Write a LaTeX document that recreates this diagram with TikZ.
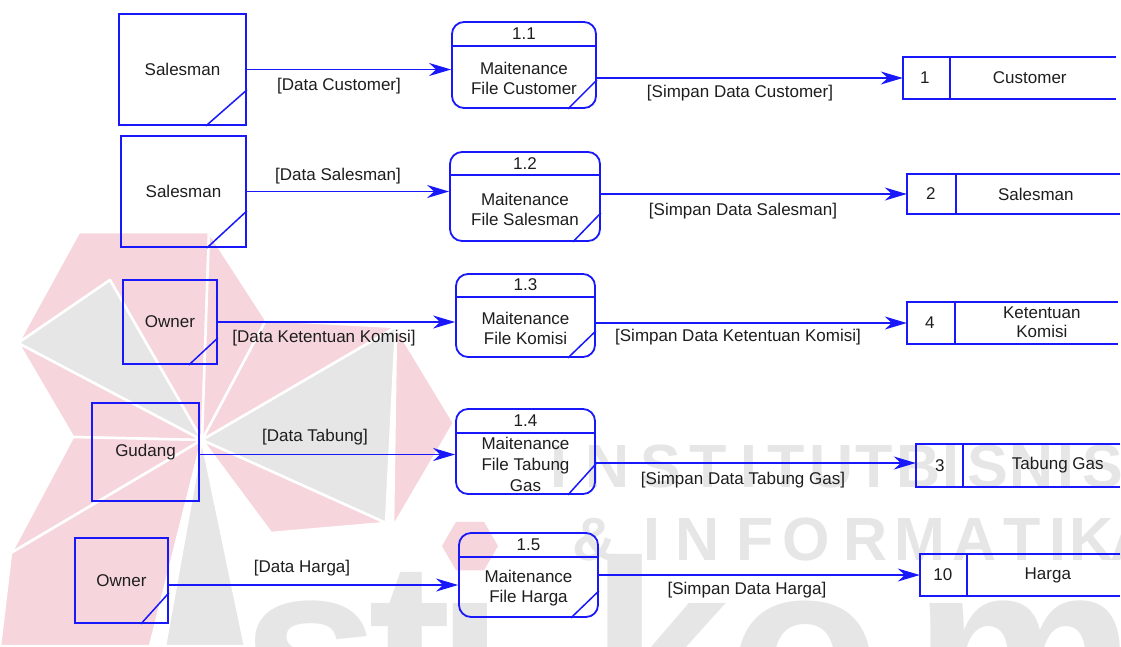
\documentclass[tikz,border=0pt]{standalone}
\usepackage{fontspec}
\setmainfont{Liberation Sans}
\newfontfamily\wmfont{Liberation Sans}
\usetikzlibrary{arrows.meta,calc,shapes.geometric}

\definecolor{flow}{RGB}{24,24,250}
\definecolor{ink}{RGB}{30,30,30}
\definecolor{wmpink}{RGB}{246,214,220}
\definecolor{wmgrey}{RGB}{230,230,230}

\begin{document}
\begin{tikzpicture}[x=1pt, y=1pt,
  flowline/.style={draw=flow, line width=1.8pt},
  entity/.style={flowline, rectangle, inner sep=0pt, font=\fontsize{17}{20}\selectfont, text=ink},
  proc/.style={flowline, rectangle, rounded corners=12pt, inner sep=0pt},
  store/.style={rectangle, inner sep=0pt},
  lbl/.style={font=\fontsize{17}{20}\selectfont, text=ink, inner sep=0pt, align=center},
  corner/.style={draw=flow, line width=1.5pt},
  arrowline/.style={flowline, -{Stealth[length=22pt,width=13pt,inset=7pt]}},
  blade/.style={draw=white, line width=2.5pt, line join=round},
  wmtext/.style={text=wmgrey, inner sep=0pt, anchor=base,
    font=\wmfont\bfseries\fontsize{61}{61}\selectfont},
  wmbig/.style={text=wmgrey, inner sep=0pt, anchor=base,
    font=\wmfont\bfseries\fontsize{250}{250}\selectfont}
]
\useasboundingbox (0,0) rectangle (1121,-646);
\fill[white] (0,0) rectangle (1121,-646);

% ---------- background logo ----------
\begin{scope}
\clip (0,0) rectangle (1121,-646);
\coordinate (C) at (202,-440);
\coordinate (A) at (79,-232);
\coordinate (B) at (209,-232);
\coordinate (D) at (18,-343);
\coordinate (E) at (266,-320);
\coordinate (F) at (396,-327);
\coordinate (G) at (454,-423);
\coordinate (H) at (393,-527);
\coordinate (I) at (271,-533);
\coordinate (J) at (73,-437);
\coordinate (K) at (11,-553);
\coordinate (N) at (386,-523);
\coordinate (P) at (110,-280);
\coordinate (R) at (154,-487);
\coordinate (Q1) at (0,-646);
\coordinate (Q2) at (150,-646);
\coordinate (Q3) at (165,-646);
\coordinate (Q4) at (245,-646);
\filldraw[blade, fill=wmpink] (A) -- (B) -- (C) -- (P) -- (D) -- cycle;
\filldraw[blade, fill=wmgrey] (D) -- (P) -- (C) -- cycle;
\filldraw[blade, fill=wmpink] (B) -- (E) -- (C) -- cycle;
\filldraw[blade, fill=wmpink] (E) -- (F) -- (C) -- cycle;
\filldraw[blade, fill=wmgrey] (F) -- (N) -- (C) -- cycle;
\filldraw[blade, fill=wmpink] (F) -- (G) -- (H) -- cycle;
\filldraw[blade, fill=wmpink] (C) -- (N) -- (I) -- cycle;
\filldraw[blade, fill=wmpink] (D) -- (C) -- (J) -- cycle;
\filldraw[blade, fill=wmpink] (J) -- (C) -- (K) -- cycle;
\filldraw[blade, fill=wmgrey] (K) -- (R) -- (C) -- cycle;
\filldraw[blade, fill=wmpink] (K) -- (C) -- (Q2) -- (Q1) -- cycle;
\filldraw[blade, fill=wmgrey] (C) -- (Q3) -- (Q4) -- cycle;

% lettering of the logo
\node[wmbig] (ws) at (311,-735) {s};
\node[wmbig] (wt) at (410,-735) {t};
\node[wmbig] (wi) at (470,-735) {ı};
\node[wmbig] (wk) at (660,-735) {k};
\node[wmbig] (wo) at (805,-735) {o};
\node[wmbig] (wm) at (1025,-735) {m};
\node[regular polygon, regular polygon sides=6, minimum size=56pt,
      fill=wmpink, inner sep=0pt] (wdot) at (470,-546) {};
\foreach \ch/\cx [count=\k] in {I/559,N/608,S/661,T/708,I/749,T/786,U/832,T/874,
                                 B/919,I/951,S/988,N/1032,I/1066,S/1103}
  \node[wmtext] (wa\k) at (\cx,-487) {\ch};
\node[wmtext] (wamp) at (595,-560) {\&};
\foreach \ch/\cx [count=\k] in {I/652,N/698,F/755,O/806,R/866,M/920,A/975,
                                 T/1022,I/1058,K/1092,A/1133}
  \node[wmtext] (wb\k) at (\cx,-560) {\ch};
\end{scope}

% ---------- external entities ----------
\node[entity, minimum width=127pt, minimum height=111pt] (e1) at (182.5,-69.5) {Salesman};
\draw[corner] ($(e1.south east)+(0,36)$) -- ($(e1.south east)+(-41,0)$);
\node[entity, minimum width=125pt, minimum height=111pt] (e2) at (183.5,-191.5) {Salesman};
\draw[corner] ($(e2.south east)+(0,37)$) -- ($(e2.south east)+(-40,0)$);
\node[entity, minimum width=94pt, minimum height=84pt] (e3) at (170,-322) {Owner};
\draw[corner] ($(e3.south east)+(0,27)$) -- ($(e3.south east)+(-29,0)$);
\node[entity, minimum width=107pt, minimum height=98pt] (e4) at (145.5,-452) {Gudang};
\node[entity, minimum width=93pt, minimum height=85pt] (e5) at (121.5,-580.5) {Owner};
\draw[corner] ($(e5.south east)+(0,31)$) -- ($(e5.south east)+(-28,0)$);

% ---------- processes ----------
\node[proc, minimum width=144pt, minimum height=86pt] (p1) at (524,-65) {};
\draw[flowline] ($(p1.north west)+(0,-25)$) -- ($(p1.north east)+(0,-25)$);
\node[lbl] (p1n) at ($(p1.north)+(0,-12.5)$) {1.1};
\node[lbl] (p1t) at ($(p1.south)+(0,30.5)$) {Maitenance\\File Customer};
\draw[corner] ($(p1.south east)+(0,29)$) -- ($(p1.south east)+(-29,0)$);

\node[proc, minimum width=150pt, minimum height=89pt] (p2) at (525,-196.5) {};
\draw[flowline] ($(p2.north west)+(0,-24)$) -- ($(p2.north east)+(0,-24)$);
\node[lbl] (p2n) at ($(p2.north)+(0,-12)$) {1.2};
\node[lbl] (p2t) at ($(p2.south)+(0,32.5)$) {Maitenance\\File Salesman};
\draw[corner] ($(p2.south east)+(0,29)$) -- ($(p2.south east)+(-28,0)$);

\node[proc, minimum width=139pt, minimum height=83pt] (p3) at (525.5,-315.5) {};
\draw[flowline] ($(p3.north west)+(0,-24)$) -- ($(p3.north east)+(0,-24)$);
\node[lbl] (p3n) at ($(p3.north)+(0,-12)$) {1.3};
\node[lbl] (p3t) at ($(p3.south)+(0,29.5)$) {Maitenance\\File Komisi};
\draw[corner] ($(p3.south east)+(0,27)$) -- ($(p3.south east)+(-28,0)$);

\node[proc, minimum width=139pt, minimum height=85pt] (p4) at (525.5,-451.5) {};
\draw[flowline] ($(p4.north west)+(0,-25)$) -- ($(p4.north east)+(0,-25)$);
\node[lbl] (p4n) at ($(p4.north)+(0,-12.5)$) {1.4};
\node[lbl, font=\fontsize{17}{21}\selectfont] (p4t) at ($(p4.south)+(0,30)$) {Maitenance\\File Tabung\\Gas};
\draw[corner] ($(p4.south east)+(0,31)$) -- ($(p4.south east)+(-28,0)$);

\node[proc, minimum width=139pt, minimum height=84pt] (p5) at (528.5,-575) {};
\draw[flowline] ($(p5.north west)+(0,-25)$) -- ($(p5.north east)+(0,-25)$);
\node[lbl] (p5n) at ($(p5.north)+(0,-12.5)$) {1.5};
\node[lbl] (p5t) at ($(p5.south)+(0,29.5)$) {Maitenance\\File Harga};
\draw[corner] ($(p5.south east)+(0,27)$) -- ($(p5.south east)+(-28,0)$);

% ---------- data stores ----------
\node[store, minimum width=213pt, minimum height=42pt] (s1) at (1009.5,-78) {};
\draw[flowline] (s1.north east) -- (s1.north west) -- (s1.south west) -- (s1.south east);
\draw[flowline] ($(s1.north west)+(47,0)$) -- ($(s1.south west)+(47,0)$);
\node[lbl] (s1id) at ($(s1.west)+(22,0)$) {1};
\node[lbl] (s1nm) at ($(s1.west)+(127,0)$) {Customer};

\node[store, minimum width=213pt, minimum height=40pt] (s2) at (1013.5,-194) {};
\draw[flowline] (s2.north east) -- (s2.north west) -- (s2.south west) -- (s2.south east);
\draw[flowline] ($(s2.north west)+(49,0)$) -- ($(s2.south west)+(49,0)$);
\node[lbl] (s2id) at ($(s2.west)+(24,0)$) {2};
\node[lbl] (s2nm) at ($(s2.west)+(129,0)$) {Salesman};

\node[store, minimum width=211pt, minimum height=42pt] (s3) at (1012.5,-323) {};
\draw[flowline] (s3.north east) -- (s3.north west) -- (s3.south west) -- (s3.south east);
\draw[flowline] ($(s3.north west)+(48,0)$) -- ($(s3.south west)+(48,0)$);
\node[lbl] (s3id) at ($(s3.west)+(23,0)$) {4};
\node[lbl, font=\fontsize{17}{19}\selectfont] (s3nm) at ($(s3.west)+(135,1)$) {Ketentuan\\Komisi};

\node[store, minimum width=204pt, minimum height=43pt] (s4) at (1018,-465.5) {};
\draw[flowline] (s4.north east) -- (s4.north west) -- (s4.south west) -- (s4.south east);
\draw[flowline] ($(s4.north west)+(47,0)$) -- ($(s4.south west)+(47,0)$);
\node[lbl] (s4id) at ($(s4.west)+(24,0)$) {3};
\node[lbl] (s4nm) at ($(s4.west)+(142,0)$) {Tabung Gas};

\node[store, minimum width=200pt, minimum height=42pt] (s5) at (1020,-575) {};
\draw[flowline] (s5.north east) -- (s5.north west) -- (s5.south west) -- (s5.south east);
\draw[flowline] ($(s5.north west)+(47,0)$) -- ($(s5.south west)+(47,0)$);
\node[lbl] (s5id) at ($(s5.west)+(23,0)$) {10};
\node[lbl] (s5nm) at ($(s5.west)+(128,0)$) {Harga};

% ---------- data flows ----------
\coordinate (h4) at ($(e4.east)+(0,-2.5)$);
\coordinate (h5) at ($(e5.east)+(0,-4.5)$);
\coordinate (g4) at ($(s4.west)+(0,2.5)$);
\draw[arrowline] (e1.east) -- (e1.east -| p1.west);
\draw[arrowline] (e2.east) -- (e2.east -| p2.west);
\draw[arrowline] (e3.east) -- (e3.east -| p3.west);
\draw[arrowline] (h4) -- (h4 -| p4.west);
\draw[arrowline] (h5) -- (h5 -| p5.west);
\draw[arrowline] (s1.west -| p1.east) -- (s1.west);
\draw[arrowline] (s2.west -| p2.east) -- (s2.west);
\draw[arrowline] (s3.west -| p3.east) -- (s3.west);
\draw[arrowline] (g4 -| p4.east) -- (g4);
\draw[arrowline] (s5.west -| p5.east) -- (s5.west);

% ---------- flow labels ----------
\node[lbl] (f1) at (339,-86) {[Data Customer]};
\node[lbl] (f2) at (740,-93) {[Simpan Data Customer]};
\node[lbl] (f3) at (338,-176) {[Data Salesman]};
\node[lbl] (f4) at (743,-211) {[Simpan Data Salesman]};
\node[lbl] (f5) at (324,-338) {[Data Ketentuan Komisi]};
\node[lbl] (f6) at (738,-337) {[Simpan Data Ketentuan Komisi]};
\node[lbl] (f7) at (315,-437) {[Data Tabung]};
\node[lbl] (f8) at (743,-480) {[Simpan Data Tabung Gas]};
\node[lbl] (f9) at (302,-568) {[Data Harga]};
\node[lbl] (f10) at (747,-590) {[Simpan Data Harga]};
\end{tikzpicture}
\end{document}
